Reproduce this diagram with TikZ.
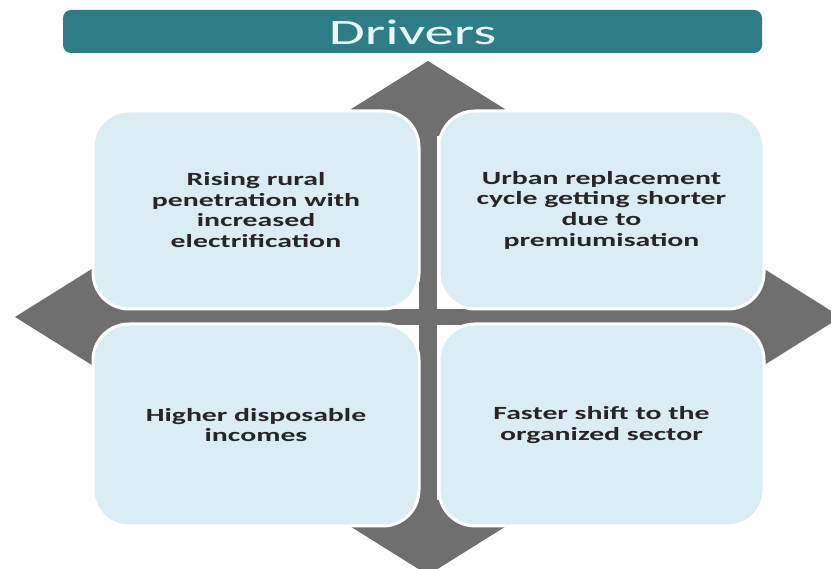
\documentclass[tikz,border=0pt]{standalone}
\usepackage{fontspec}
\setmainfont{Carlito}
\newfontfamily\headfont[FakeStretch=1.64]{Carlito}
\newfontfamily\cardfont[FakeStretch=1.6]{Carlito}
\definecolor{barteal}{HTML}{2E7D86}
\definecolor{headtext}{HTML}{E8F8FA}
\definecolor{arrowgray}{HTML}{6F6F6F}
\definecolor{cardfill}{HTML}{DAEDF2}
\definecolor{cardtext}{HTML}{262626}
\tikzset{
  card/.style={draw=white, line width=3pt, fill=cardfill, rounded corners=36pt,
    inner sep=0pt, align=center, text=cardtext,
    font=\cardfont\bfseries\fontsize{18.6}{20.7}\selectfont},
  titlebar/.style={fill=barteal, rounded corners=8pt, inner sep=0pt,
    minimum width=699pt, minimum height=43pt},
}
\begin{document}
\begin{tikzpicture}[x=1pt, y=-1pt]
\useasboundingbox (0,0) rectangle (831,569);

% title bar and its caption
\node[titlebar] (bar) at (412.5,31.5) {};
\node[anchor=base, text=headtext, inner sep=0pt,
      font=\headfont\fontsize{35.7}{40}\selectfont] (bartext) at (412.5,45) {Drivers};

% four-way arrow behind the cards
\begin{scope}[arrowgray]
  \fill (428,61) -- (548,136) -- (308,136) -- cycle;
  \fill (428,575) -- (548,500) -- (308,500) -- cycle;
  \fill (15,317) -- (135,242) -- (135,392) -- cycle;
  \fill (841,317) -- (721,242) -- (721,392) -- cycle;
  \fill (419,130) rectangle (437,505);
  \fill (130,309) rectangle (726,325);
\end{scope}

% the four driver cards
\node[card, minimum width=326pt, minimum height=198pt] (tl) at (256,210)
  {Rising rural\\penetration with\\increased\\electrification};
\node[card, minimum width=325pt, minimum height=198pt] (tr) at (601.5,210)
  {Urban replacement\\cycle getting shorter\\due to\\premiumisation};
\node[card, minimum width=326pt, minimum height=202pt] (bl) at (256,425)
  {Higher disposable\\incomes};
\node[card, minimum width=325pt, minimum height=202pt] (br) at (601.5,425)
  {Faster shift to the\\organized sector};
\end{tikzpicture}
\end{document}
